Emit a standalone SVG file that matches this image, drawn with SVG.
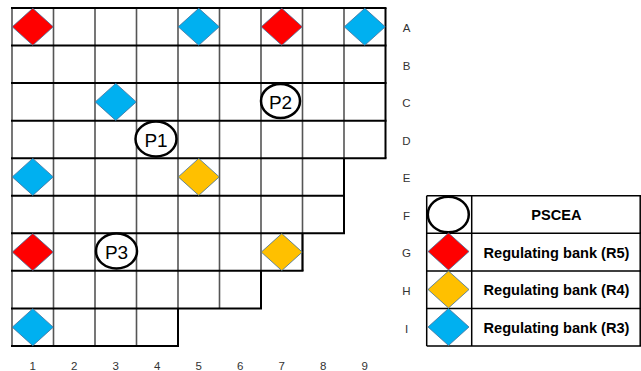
<svg xmlns="http://www.w3.org/2000/svg" width="641" height="371" viewBox="0 0 641 371">
<style>
.h{stroke:#000;stroke-width:2;fill:none}
.v{stroke:#555;stroke-width:1.6;fill:none}
.vb{stroke:#000;stroke-width:2;fill:none}
.red{fill:#FF0000;stroke:#41719C;stroke-width:0.8}
.yel{fill:#FFC000;stroke:#41719C;stroke-width:0.8}
.blu{fill:#00B0F0;stroke:#41719C;stroke-width:0.8}
.ps{fill:#fff;stroke:#000;stroke-width:2.5}
.pt{font-family:"Liberation Sans",Arial,sans-serif;font-size:19px;fill:#000;text-anchor:middle;dominant-baseline:central}
.lab{font-family:"Liberation Sans",Arial,sans-serif;font-size:11.5px;fill:#333;text-anchor:middle;dominant-baseline:central}
.lg{font-family:"Liberation Sans",Arial,sans-serif;font-size:14.6px;font-weight:bold;fill:#000;text-anchor:middle;dominant-baseline:central}
.tb{stroke:#000;stroke-width:1.5;fill:none}
</style>
<defs>
<path id="dia" d="M0,-18.5 L20.5,0 L0,18.5 L-20.5,0 Z"/>
</defs>
<g id="grid">
<path class="v" d="M12,8V346 M53.5,8V346 M95,8V346 M136.5,8V346 M178,8V346 M219.5,8V308.4 M261,8V308.4 M302.5,8V270.85 M344,8V233.3"/>
<path class="vb" d="M385.5,8V158.2 M344,158.2V233.3 M302.5,233.3V270.85 M261,270.85V308.4 M178,308.4V346"/>
<path class="h" d="M11,8H386.5 M11,45.55H386.5 M11,83.1H386.5 M11,120.65H386.5 M11,158.2H386.5 M11,195.75H345 M11,233.3H345 M11,270.85H303.5 M11,308.4H262 M11,345.95H179"/>
</g>
<g id="banks">
<use href="#dia" class="red" x="32.75" y="26.8"/>
<use href="#dia" class="blu" x="198.75" y="26.8"/>
<use href="#dia" class="red" x="281.75" y="26.8"/>
<use href="#dia" class="blu" x="364.75" y="26.8"/>
<use href="#dia" class="blu" x="115.75" y="101.9"/>
<use href="#dia" class="blu" x="32.75" y="176.9"/>
<use href="#dia" class="yel" x="198.75" y="176.9"/>
<use href="#dia" class="red" x="32.75" y="252.1"/>
<use href="#dia" class="yel" x="281.75" y="252.1"/>
<use href="#dia" class="blu" x="32.75" y="327.2"/>
</g>
<g id="P1"><ellipse class="ps" cx="156" cy="139" rx="20.5" ry="17.5"/><text class="pt" x="156" y="140">P1</text></g>
<g id="P2"><ellipse class="ps" cx="280.5" cy="101" rx="19.5" ry="17"/><text class="pt" x="280.5" y="102">P2</text></g>
<g id="P3"><ellipse class="ps" cx="116.5" cy="251" rx="20.5" ry="17.5"/><text class="pt" x="116.5" y="252">P3</text></g>
<g id="rowlabels">
<text class="lab" x="406.5" y="28">A</text>
<text class="lab" x="406.5" y="66">B</text>
<text class="lab" x="406.5" y="103">C</text>
<text class="lab" x="406.5" y="141">D</text>
<text class="lab" x="406.5" y="178">E</text>
<text class="lab" x="406.5" y="216">F</text>
<text class="lab" x="406.5" y="253">G</text>
<text class="lab" x="406.5" y="291">H</text>
<text class="lab" x="406.5" y="329">I</text>
</g>
<g id="collabels">
<text class="lab" x="32.75" y="365.5">1</text>
<text class="lab" x="74.25" y="365.5">2</text>
<text class="lab" x="115.75" y="365.5">3</text>
<text class="lab" x="157.25" y="365.5">4</text>
<text class="lab" x="198.75" y="365.5">5</text>
<text class="lab" x="240.25" y="365.5">6</text>
<text class="lab" x="281.75" y="365.5">7</text>
<text class="lab" x="323.25" y="365.5">8</text>
<text class="lab" x="364.75" y="365.5">9</text>
</g>
<g id="legend">
<path class="tb" d="M426.7,195.7H641 M426.7,233.3H641 M426.7,270.9H641 M426.7,308.4H641 M426.7,346H641 M426.7,195.7V346 M471.7,195.7V346 M640.2,195.7V346"/>
<ellipse class="ps" cx="448.3" cy="214.5" rx="20.5" ry="17.8"/>
<use href="#dia" class="red" x="448.5" y="251.5"/>
<use href="#dia" class="yel" x="448.5" y="289.5"/>
<use href="#dia" class="blu" x="448.5" y="327"/>
<text class="lg" x="556.5" y="215">PSCEA</text>
<text class="lg" x="556.5" y="253">Regulating bank (R5)</text>
<text class="lg" x="556.5" y="290">Regulating bank (R4)</text>
<text class="lg" x="556.5" y="328">Regulating bank (R3)</text>
</g>
</svg>
